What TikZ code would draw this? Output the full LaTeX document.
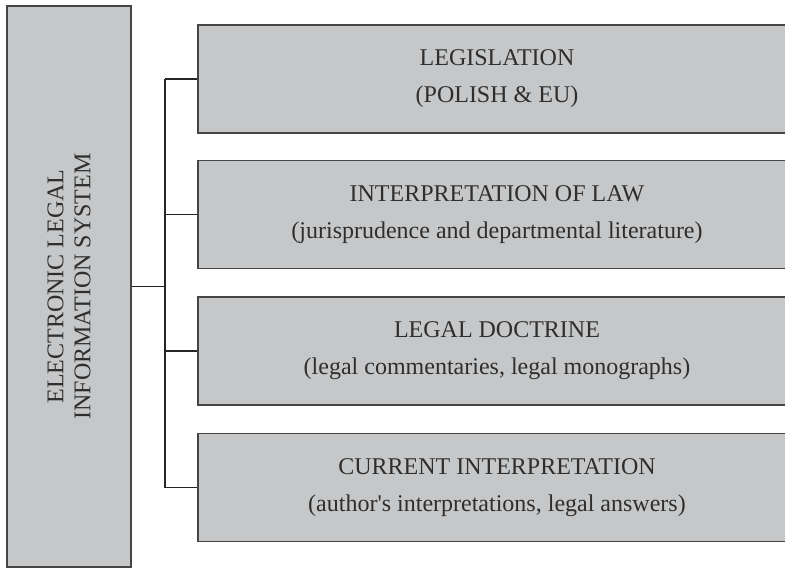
\documentclass[tikz,border=0pt]{standalone}
\usepackage{fontspec}
\setmainfont{Liberation Serif}
\usetikzlibrary{positioning}
\definecolor{boxgray}{HTML}{C6C7C9}
\definecolor{linegray}{HTML}{454545}
\definecolor{textgray}{HTML}{2E2E2E}
\newcommand{\straightq}{\XeTeXglyph\XeTeXglyphindex "quotesingle"\relax}
\tikzset{
  sysbox/.style={draw=linegray, fill=boxgray, line width=1.1pt, inner sep=0pt,
    minimum width=124pt, minimum height=561pt},
  partbox/.style={draw=linegray, fill=boxgray, line width=1.1pt, inner sep=0pt,
    minimum width=598pt, minimum height=108pt, align=center, text=textgray,
    font=\fontsize{24}{37}\selectfont},
  link/.style={draw=black!85, line width=1.4pt}
}
\begin{document}
\begin{tikzpicture}[x=1pt,y=-1pt]
  \clip (0,0) rectangle (785,568);
  \fill[white] (0,0) rectangle (785,568);

  \node[sysbox] (sys) at (69,286.5) {};
  \node[rotate=90, align=center, text=textgray, font=\fontsize{24}{27}\selectfont]
    (systext) at (sys.center) {ELECTRONIC LEGAL\\INFORMATION SYSTEM};

  \node[partbox] (leg) at (497,79) {LEGISLATION\\(POLISH \& EU)};
  \node[partbox] (interp) at (497,214.5) {INTERPRETATION OF LAW\\(jurisprudence and departmental literature)};
  \node[partbox] (doct) at (497,351) {LEGAL DOCTRINE\\(legal commentaries, legal monographs)};
  \node[partbox] (curr) at (497,487.5) {CURRENT INTERPRETATION\\(author\straightq s interpretations, legal answers)};

  \coordinate (fork) at (165,286.5);

  \draw[link] (sys.east) -- (fork);
  \draw[link] (fork |- leg) -- (fork |- curr);
  \draw[link] (fork |- leg) -- (leg.west);
  \draw[link] (fork |- interp) -- (interp.west);
  \draw[link] (fork |- doct) -- (doct.west);
  \draw[link] (fork |- curr) -- (curr.west);
\end{tikzpicture}
\end{document}
